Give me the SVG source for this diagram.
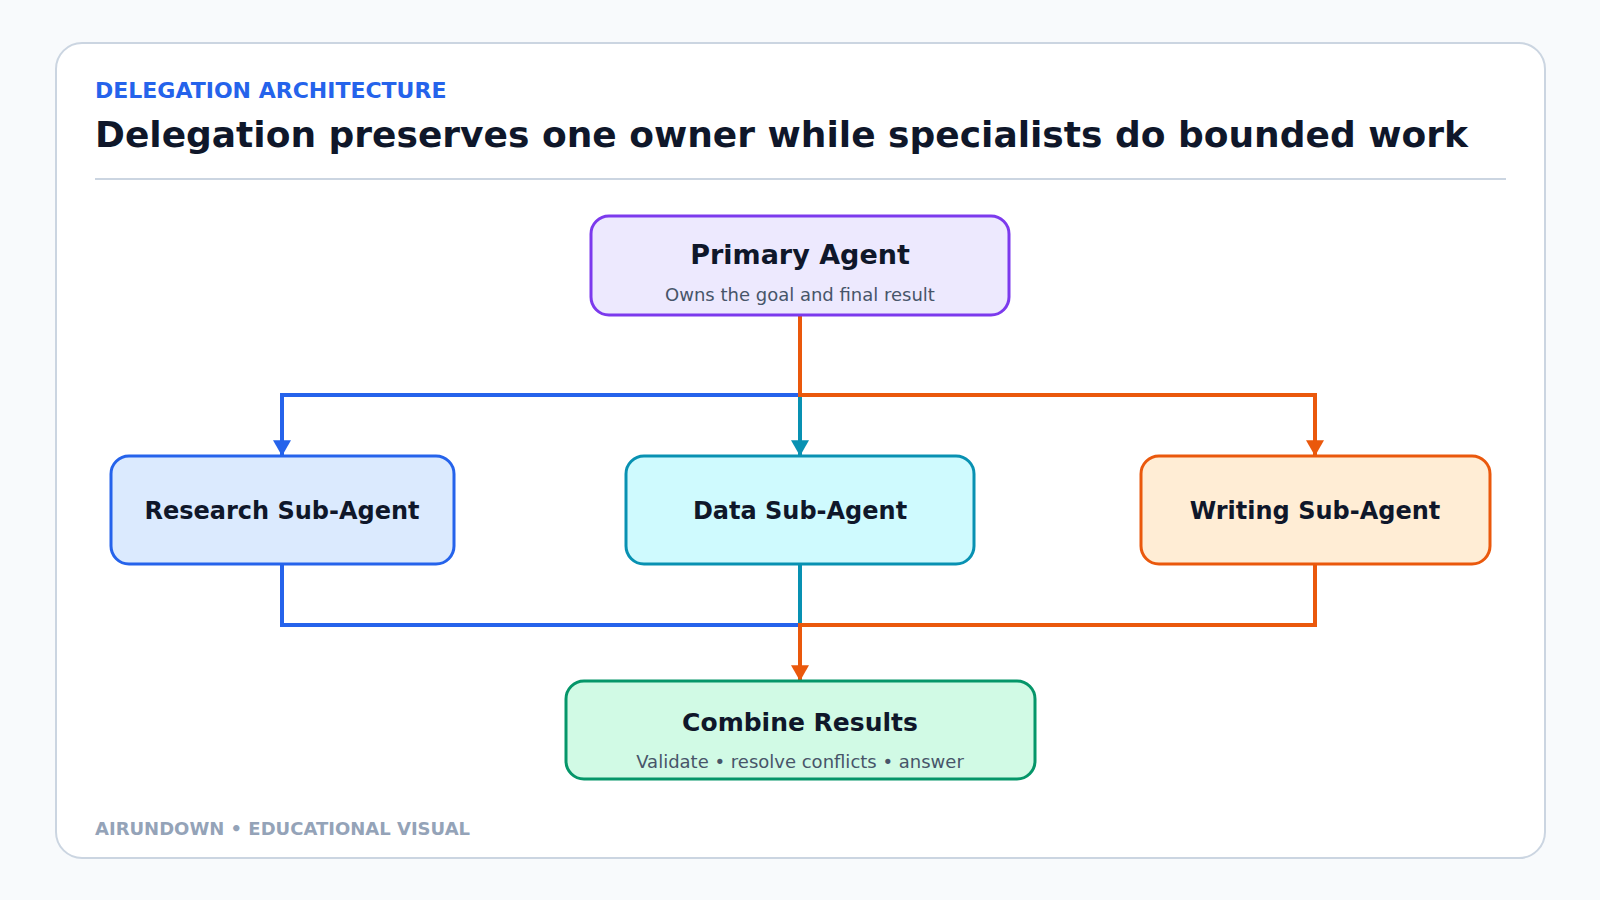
<svg xmlns="http://www.w3.org/2000/svg" width="1600" height="900" viewBox="0 0 1600 900">
  <defs>
    <marker id="ah-blue" markerUnits="userSpaceOnUse" markerWidth="18" markerHeight="16" refX="8" refY="14" orient="0" viewBox="0 0 16 14">
      <path d="M0,0 L16,0 L8,14 Z" fill="#2563eb"/>
    </marker>
    <marker id="ah-teal" markerUnits="userSpaceOnUse" markerWidth="18" markerHeight="16" refX="8" refY="14" orient="0" viewBox="0 0 16 14">
      <path d="M0,0 L16,0 L8,14 Z" fill="#0891b2"/>
    </marker>
    <marker id="ah-orange" markerUnits="userSpaceOnUse" markerWidth="18" markerHeight="16" refX="8" refY="14" orient="0" viewBox="0 0 16 14">
      <path d="M0,0 L16,0 L8,14 Z" fill="#ea580c"/>
    </marker>
  </defs>
  <style>
    text { font-family: "DejaVu Sans", "Liberation Sans", sans-serif; }
    .eyebrow { font-size: 22px; font-weight: bold; fill: #2563eb; }
    .title { font-size: 36px; font-weight: bold; fill: #0f172a; }
    .footer { font-size: 18px; font-weight: bold; fill: #94a3b8; }
    .node-title { font-weight: bold; fill: #0f172a; text-anchor: middle; }
    .sub-title { font-size: 24px; font-weight: bold; fill: #0f172a; text-anchor: middle; }
    .node-sub { font-size: 18px; fill: #475569; text-anchor: middle; }
    .box { stroke-width: 3; }
    .conn { fill: none; stroke-width: 4; stroke-linejoin: miter; }
  </style>
  <rect x="0" y="0" width="1600" height="900" fill="#f8fafc"/>
  <rect x="56" y="43" width="1489" height="815" rx="26" ry="26" fill="#ffffff" stroke="#cbd5e1" stroke-width="2"/>
  <text class="eyebrow" x="95" y="98">DELEGATION ARCHITECTURE</text>
  <text class="title" x="95" y="147">Delegation preserves one owner while specialists do bounded work</text>
  <line x1="95" y1="179" x2="1506" y2="179" stroke="#cbd5e1" stroke-width="2"/>

  <g id="connectors">
    <path class="conn" stroke="#2563eb" d="M800,316 V395 H282 V456" marker-end="url(#ah-blue)"/>
    <path class="conn" stroke="#0891b2" d="M800,316 V456" marker-end="url(#ah-teal)"/>
    <path class="conn" stroke="#ea580c" d="M800,316 V395 H1315 V456" marker-end="url(#ah-orange)"/>
    <path class="conn" stroke="#2563eb" d="M282,565 V625 H800 V681"/>
    <path class="conn" stroke="#0891b2" d="M800,565 V681"/>
    <path class="conn" stroke="#ea580c" d="M1315,565 V625 H800 V681" marker-end="url(#ah-orange)"/>
  </g>

  <g id="primary-agent">
    <rect class="box" x="591" y="216" width="418" height="99" rx="18" ry="18" fill="#ede9fe" stroke="#7c3aed"/>
    <text class="node-title" x="800" y="264" font-size="27">Primary Agent</text>
    <text class="node-sub" x="800" y="301">Owns the goal and final result</text>
  </g>
  <g id="research-sub-agent">
    <rect class="box" x="111" y="456" width="343" height="108" rx="18" ry="18" fill="#dbeafe" stroke="#2563eb"/>
    <text class="sub-title" x="282" y="519">Research Sub-Agent</text>
  </g>
  <g id="data-sub-agent">
    <rect class="box" x="626" y="456" width="348" height="108" rx="18" ry="18" fill="#cffafe" stroke="#0891b2"/>
    <text class="sub-title" x="800" y="519">Data Sub-Agent</text>
  </g>
  <g id="writing-sub-agent">
    <rect class="box" x="1141" y="456" width="349" height="108" rx="18" ry="18" fill="#ffedd5" stroke="#ea580c"/>
    <text class="sub-title" x="1315" y="519">Writing Sub-Agent</text>
  </g>
  <g id="combine-results">
    <rect class="box" x="566" y="681" width="469" height="98" rx="18" ry="18" fill="#d1fae5" stroke="#059669"/>
    <text class="node-title" x="800" y="731" font-size="25">Combine Results</text>
    <text class="node-sub" x="800" y="768">Validate • resolve conflicts • answer</text>
  </g>

  <text class="footer" x="95" y="835">AIRUNDOWN • EDUCATIONAL VISUAL</text>
</svg>
